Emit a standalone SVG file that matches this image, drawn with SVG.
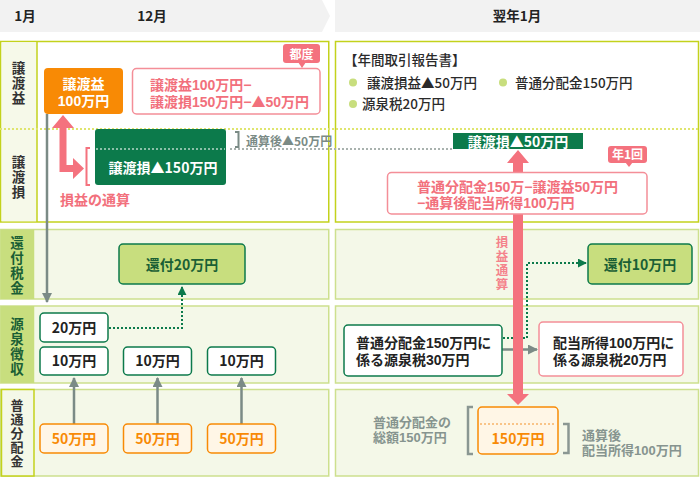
<svg xmlns="http://www.w3.org/2000/svg" width="700" height="477" viewBox="0 0 700 477">
<defs>
<style>
text{font-family:"Noto Sans CJK JP","Noto Sans",sans-serif;font-weight:700}
text.ml{font-family:"Liberation Sans","Noto Sans CJK JP",sans-serif}
tspan.tri{font-family:"Noto Sans CJK JP",sans-serif}
.hd{font-size:13.5px;fill:#222;text-anchor:middle}
.vt{writing-mode:vertical-rl;font-size:13.5px;letter-spacing:1.5px}
.row1{fill:#fff;stroke:#c3d21c;stroke-width:1.5}
.rowL{fill:#f4f8e8;stroke:#cde08e;stroke-width:1.5}
.colL{fill:#f6f9e9}
.colD{fill:#c8de7e}
.w{fill:#fff;font-size:14px;text-anchor:middle}
.pk{fill:#f2707c;font-size:14px}
.dk{fill:#222;font-size:14px;text-anchor:middle}
.og{fill:#f88a05;font-size:14px;text-anchor:middle}
.gn{fill:#1a5f35;font-size:14px;text-anchor:middle}
.gy{fill:#86948f}
.rep{fill:#2a2a2a;font-size:13.5px;font-weight:500}
.bx{fill:#fff;stroke:#0c7a4b;stroke-width:1.5}
.obx{fill:#fff6e6;stroke:#f88a05;stroke-width:1.5}
.gbx{fill:#c8de7e;stroke:#0c7a4b;stroke-width:1.5}
.pbx{fill:#fff;stroke:#f48e98;stroke-width:1.5}
.gline{stroke:#7b8b86;stroke-width:2.5;fill:none}
.gdot{stroke:#0c7a4b;stroke-width:2;stroke-dasharray:2 2;fill:none}
</style>
<marker id="ga" viewBox="0 0 10 10" refX="9" refY="5" markerWidth="4" markerHeight="4" orient="auto" markerUnits="strokeWidth">
<path d="M0,0 L10,5 L0,10 Z" fill="#7b8b86"/>
</marker>
<marker id="gd" viewBox="0 0 10 10" refX="9" refY="5" markerWidth="4.5" markerHeight="4.5" orient="auto" markerUnits="strokeWidth">
<path d="M0,0 L10,5 L0,10 Z" fill="#0c7a4b"/>
</marker>
</defs>

<g id="header">
<polygon points="0,0 322,0 330,16 322,32 0,32" fill="#f2f2f2"/>
<rect x="335" y="0" width="365" height="32" fill="#f2f2f2"/>
<text class="hd" x="25" y="21">1月</text>
<text class="hd" x="152" y="21">12月</text>
<text class="hd" x="517" y="21">翌年1月</text>
</g>

<g id="rows">
<rect class="row1" x="0.75" y="41.5" width="328" height="180.5"/>
<rect class="colL" x="1.5" y="42.25" width="35.5" height="179"/>
<line x1="37" y1="41.5" x2="37" y2="222" stroke="#c3d21c" stroke-width="1.5"/>
<rect class="row1" x="335.5" y="41.5" width="363" height="180.5"/>
<line x1="0" y1="129" x2="700" y2="129" stroke="#dfe56e" stroke-width="2" stroke-dasharray="2 2"/>

<rect class="rowL" x="0.75" y="229.5" width="328" height="69.5"/>
<rect class="colD" x="0.75" y="229.5" width="33.5" height="69.5"/>
<rect class="rowL" x="335.5" y="229.5" width="363" height="69.5"/>

<rect class="rowL" x="0.75" y="306" width="328" height="77"/>
<rect class="colD" x="0.75" y="306" width="33.5" height="77"/>
<rect class="rowL" x="335.5" y="306" width="363" height="77"/>

<rect class="rowL" x="0.75" y="389.5" width="328" height="86.5"/>
<rect x="1.5" y="389.5" width="32.5" height="86.5" fill="#f4f8e8" stroke="#c3d21c" stroke-width="1.5"/>
<rect class="rowL" x="335.5" y="389.5" width="363" height="86.5"/>

<text class="vt" fill="#333" x="18.5" y="61">譲渡益</text>
<text class="vt" fill="#333" x="18.5" y="155">譲渡損</text>
<text class="vt" fill="#1a5f35" x="17" y="236">還付税金</text>
<text class="vt" fill="#1a5f35" x="17" y="317">源泉徴収</text>
<text class="vt" fill="#333" x="17" y="398.5" style="font-size:13px;letter-spacing:1px">普通分配金</text>
</g>

<g id="connectors">
<line class="gline" x1="47" y1="114" x2="47" y2="302" marker-end="url(#ga)"/>
<line class="gline" x1="74" y1="424" x2="74" y2="378" marker-end="url(#ga)"/>
<line class="gline" x1="157.5" y1="424" x2="157.5" y2="378" marker-end="url(#ga)"/>
<line class="gline" x1="241.5" y1="424" x2="241.5" y2="378" marker-end="url(#ga)"/>
<polyline class="gdot" points="109,328 182,328 182,287" marker-end="url(#gd)"/>
<polyline class="gdot" points="503,338 527,338 527,263 586,263" marker-end="url(#gd)"/>
<line class="gline" x1="502" y1="349.5" x2="537" y2="349.5" marker-end="url(#ga)"/>
<line x1="230" y1="149" x2="453" y2="149" stroke="#a9b2ae" stroke-width="2" stroke-dasharray="2 2"/>
<polygon points="63,115 74,128 66.5,128 66.5,165 73,165 73,158 84,168.5 73,179 73,172 59.5,172 59.5,128 52,128" fill="#f4727e"/>
<polygon points="518,150 529,163 523,163 523,394 529,394 518,405 507,394 513,394 513,163 507,163" fill="#f4727e"/>
<path d="M90,148 H86.5 V185 H90" stroke="#f4727e" stroke-width="2" fill="none"/>
<path d="M235,132 H238.5 V147 H235" stroke="#7b8b86" stroke-width="2" fill="none"/>
<path d="M473,407 H468 V454 H473" stroke="#8a9792" stroke-width="2.5" fill="none"/>
<path d="M563,424 H568.5 V453 H563" stroke="#8a9792" stroke-width="2.5" fill="none"/>
</g>

<g id="gain">
<rect x="44" y="68" width="79" height="46" rx="4" fill="#f88a05"/>
<text class="w ml"><tspan x="83.5" y="89">譲渡益</tspan><tspan x="83.5" y="106">100万円</tspan></text>
</g>

<g id="gain-calc">
<rect class="pbx" x="132.5" y="68.5" width="187.5" height="45.5" rx="4"/>
<text class="pk ml"><tspan x="150" y="90">譲渡益100万円−</tspan><tspan x="150" y="107">譲渡損150万円−<tspan class="tri">▲</tspan>50万円</tspan></text>
</g>

<g id="tag-tsudo">
<rect x="283" y="44" width="37" height="19" rx="3" fill="#f4727e"/>
<polygon points="298,62 306,62 302,68" fill="#f4727e"/>
<text x="301.5" y="58.5" fill="#fff" font-size="12" text-anchor="middle">都度</text>
</g>

<g id="loss">
<rect x="95" y="129" width="131" height="56" rx="3" fill="#0c7a4b"/>
<line x1="96" y1="149" x2="225" y2="149" stroke="#fff" stroke-opacity="0.7" stroke-width="1.5" stroke-dasharray="2 2"/>
<text class="w" x="163" y="173">譲渡損▲150万円</text>
</g>

<g id="after-label">
<text x="246" y="146" font-size="12" fill="#7b8b86">通算後▲50万円</text>
</g>

<g id="offset-label">
<text class="pk" x="60" y="205">損益の通算</text>
</g>

<g id="report">
<text class="rep" x="344" y="65">【年間取引報告書】</text>
<circle cx="353" cy="82.5" r="4" fill="#c8de7e"/>
<text class="rep" x="367" y="88">譲渡損益▲50万円</text>
<circle cx="503" cy="82.5" r="4" fill="#c8de7e"/>
<text class="rep" x="515" y="88">普通分配金150万円</text>
<circle cx="353" cy="104" r="4" fill="#c8de7e"/>
<text class="rep" x="362" y="109">源泉税20万円</text>
</g>

<g id="loss-year">
<rect x="453" y="133" width="130" height="16" fill="#0c7a4b"/>
<text class="w" x="518" y="146.5">譲渡損▲50万円</text>
</g>

<g id="tag-year">
<rect x="608" y="146" width="39" height="17" rx="3" fill="#f4727e"/>
<polygon points="625,162 633,162 629,167" fill="#f4727e"/>
<text x="627.5" y="159" fill="#fff" font-size="12" text-anchor="middle">年1回</text>
</g>

<g id="year-calc">
<rect class="pbx" x="387.5" y="172.5" width="259.5" height="41.5" rx="4"/>
<text class="pk ml"><tspan x="417" y="192">普通分配金150万−譲渡益50万円</tspan><tspan x="417" y="208">−通算後配当所得100万円</tspan></text>
</g>

<g id="offset-vertical">
<text class="vt" fill="#f4838c" x="502" y="236" style="font-size:12.5px;letter-spacing:1.5px">損益通算</text>
</g>

<g id="refund20">
<rect class="gbx" x="119" y="244" width="126" height="40" rx="4"/>
<text class="gn" x="182" y="270">還付20万円</text>
</g>

<g id="refund10">
<rect class="gbx" x="588" y="244" width="104" height="40" rx="4"/>
<text class="gn" x="640" y="270">還付10万円</text>
</g>

<g id="wh20">
<rect class="bx" x="40" y="313" width="68" height="29" rx="4"/>
<text class="dk" x="74" y="333">20万円</text>
</g>
<g id="wh10a">
<rect class="bx" x="40" y="347" width="68" height="28" rx="4"/>
<text class="dk" x="74" y="366">10万円</text>
</g>
<g id="wh10b">
<rect class="bx" x="123.5" y="347" width="68" height="28" rx="4"/>
<text class="dk" x="157.5" y="366">10万円</text>
</g>
<g id="wh10c">
<rect class="bx" x="207.5" y="347" width="68" height="28" rx="4"/>
<text class="dk" x="241.5" y="366">10万円</text>
</g>

<g id="div50a">
<rect class="obx" x="40" y="424" width="68" height="29" rx="4"/>
<text class="og" x="74" y="443.5">50万円</text>
</g>
<g id="div50b">
<rect class="obx" x="123.5" y="424" width="68" height="29" rx="4"/>
<text class="og" x="157.5" y="443.5">50万円</text>
</g>
<g id="div50c">
<rect class="obx" x="207.5" y="424" width="68" height="29" rx="4"/>
<text class="og" x="241.5" y="443.5">50万円</text>
</g>

<g id="wh30">
<rect class="bx" x="344" y="325" width="158" height="51" rx="4"/>
<text class="ml" fill="#222" font-size="14" font-weight="500"><tspan x="356" y="348">普通分配金150万円に</tspan><tspan x="356" y="365">係る源泉税30万円</tspan></text>
</g>

<g id="wh20r">
<rect class="pbx" x="539" y="322" width="144" height="54" rx="4"/>
<text class="ml" fill="#222" font-size="14" font-weight="500"><tspan x="553" y="348">配当所得100万円に</tspan><tspan x="553" y="365">係る源泉税20万円</tspan></text>
</g>

<g id="total-label">
<text class="gy ml" font-size="13"><tspan x="373" y="427">普通分配金の</tspan><tspan x="373" y="442">総額150万円</tspan></text>
</g>

<g id="div150">
<rect class="obx" x="478" y="407" width="80" height="47" rx="4"/>
<line x1="480" y1="424" x2="556" y2="424" stroke="#f8b46a" stroke-width="1.5" stroke-dasharray="2 2"/>
<text class="og" x="518" y="444">150万円</text>
</g>

<g id="after-income">
<text class="gy ml" font-size="13"><tspan x="582" y="440">通算後</tspan><tspan x="582" y="455">配当所得100万円</tspan></text>
</g>
</svg>
